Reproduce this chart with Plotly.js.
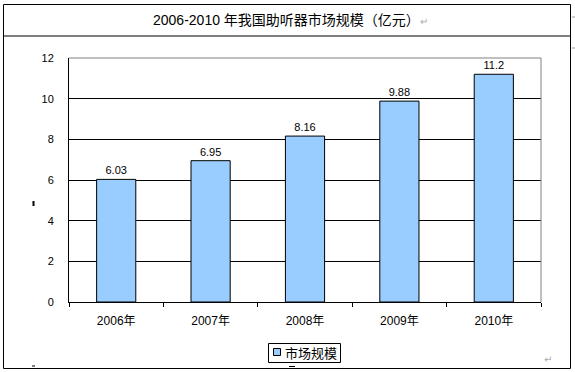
<!DOCTYPE html>
<html>
<head>
<meta charset="utf-8">
<script src="https://cdn.plot.ly/plotly-3.0.1.min.js"></script>
<style>html,body{margin:0;padding:0;background:#fff;}#chart{width:575px;height:372px;}</style>
</head>
<body>
<div id="chart"></div>
<script>
// ---- data ----
const categories = ["2006年", "2007年", "2008年", "2009年", "2010年"];
const marketSize = [6.03, 6.95, 8.16, 9.88, 11.2];
const valueLabels = ["6.03", "6.95", "8.16", "9.88", "11.2"];
const seriesName = "市场规模";
const chartTitle = "2006-2010 年我国助听器市场规模（亿元）";
const yTicks = [0, 2, 4, 6, 8, 10, 12];

// ---- layout helpers (pixel -> paper) ----
const W = 575, H = 372;
const L = 69, R = 541, T = 58, B = 302;
const px = x => (x - L) / (R - L);
const py = y => (B - y) / (B - T);

const numFont = "Liberation Sans, Arial, Noto Sans CJK SC, sans-serif";
const cjkFont = "Liberation Sans, Arial, Noto Sans CJK SC, sans-serif";

const trace = {
  type: "bar",
  x: categories,
  y: marketSize,
  name: seriesName,
  text: valueLabels,
  textposition: "outside",
  cliponaxis: false,
  textfont: {family: numFont, size: 11, color: "#000"},
  marker: {color: "#99CCFF", line: {color: "#000", width: 1}},
  hoverinfo: "skip",
  showlegend: false
};

const shapes = [
  // outer table border
  {type: "rect", xref: "paper", yref: "paper", x0: px(3.5), x1: px(570.5), y0: py(4.5), y1: py(368.5), line: {color: "#000", width: 1}, layer: "above"},
  // title divider
  {type: "line", xref: "paper", yref: "paper", x0: px(3.5), x1: px(570.5), y0: py(36), y1: py(36), line: {color: "#000", width: 1}, layer: "above"},
  // plot area gray top and right border
  {type: "line", xref: "paper", yref: "paper", x0: 0, x1: 1, y0: 1, y1: 1, line: {color: "#808080", width: 1}, layer: "above"},
  {type: "line", xref: "paper", yref: "paper", x0: 1, x1: 1, y0: 0, y1: 1, line: {color: "#808080", width: 1}, layer: "above"},
  // legend box
  {type: "rect", xref: "paper", yref: "paper", x0: px(268.5), x1: px(340.5), y0: py(343.5), y1: py(362.5), line: {color: "#000", width: 1}, fillcolor: "#fff", layer: "above"},
  // legend marker
  {type: "rect", xref: "paper", yref: "paper", x0: px(273.5), x1: px(280.5), y0: py(348.5), y1: py(355.5), line: {color: "#000", width: 1}, fillcolor: "#99CCFF", layer: "above"},
  // small stray marks
  {type: "line", xref: "paper", yref: "paper", x0: px(33.5), x1: px(33.5), y0: py(201), y1: py(206), line: {color: "#000", width: 2}, layer: "above"},
  {type: "line", xref: "paper", yref: "paper", x0: px(32), x1: px(35), y0: py(366), y1: py(366), line: {color: "#000", width: 1}, layer: "above"},
  {type: "line", xref: "paper", yref: "paper", x0: px(289), x1: px(295), y0: py(366.5), y1: py(366.5), line: {color: "#000", width: 1}, layer: "above"},
  {type: "line", xref: "paper", yref: "paper", x0: px(572), x1: px(575), y0: py(17), y1: py(17), line: {color: "#999", width: 1}, layer: "above"},
  {type: "line", xref: "paper", yref: "paper", x0: px(572), x1: px(575), y0: py(48), y1: py(48), line: {color: "#999", width: 1}, layer: "above"}
];

const annotations = [
  {xref: "paper", yref: "paper", x: px(290), y: py(20), xanchor: "center", yanchor: "middle", showarrow: false,
   text: chartTitle + '<span style="color:#aaa;font-size:10px">↵</span>',
   font: {family: cjkFont, size: 14, color: "#000"}},
  {xref: "paper", yref: "paper", x: px(283), y: py(352), xanchor: "left", yanchor: "middle", showarrow: false,
   text: seriesName, font: {family: "Noto Sans CJK SC, sans-serif", size: 13, color: "#000"}},
  {xref: "paper", yref: "paper", x: px(548), y: py(359), xanchor: "center", yanchor: "middle", showarrow: false,
   text: "↵", font: {family: "DejaVu Sans, sans-serif", size: 10, color: "#aaa"}}
];

const layout = {
  width: W, height: H,
  margin: {l: L, r: W - R, t: T, b: H - B, pad: 0},
  paper_bgcolor: "#fff",
  plot_bgcolor: "#fff",
  bargap: 0.585,
  showlegend: false,
  xaxis: {
    type: "category",
    showline: true, linecolor: "#000", linewidth: 1,
    ticks: "outside", tickson: "boundaries", ticklen: 4, tickcolor: "#000", tickwidth: 1,
    ticklabelstandoff: 8,
    showgrid: false, zeroline: false,
    tickfont: {family: numFont, size: 12, color: "#000"},
    fixedrange: true
  },
  yaxis: {
    range: [0, 12],
    tickvals: yTicks,
    ticktext: yTicks.map(String),
    showline: true, linecolor: "#000", linewidth: 1,
    ticks: "", ticklabelstandoff: 12,
    showgrid: true, gridcolor: "#000", gridwidth: 1,
    zeroline: false,
    tickfont: {family: numFont, size: 11, color: "#000"},
    fixedrange: true
  },
  shapes: shapes,
  annotations: annotations
};

Plotly.newPlot("chart", [trace], layout, {displayModeBar: false, staticPlot: true});
</script>
</body>
</html>
